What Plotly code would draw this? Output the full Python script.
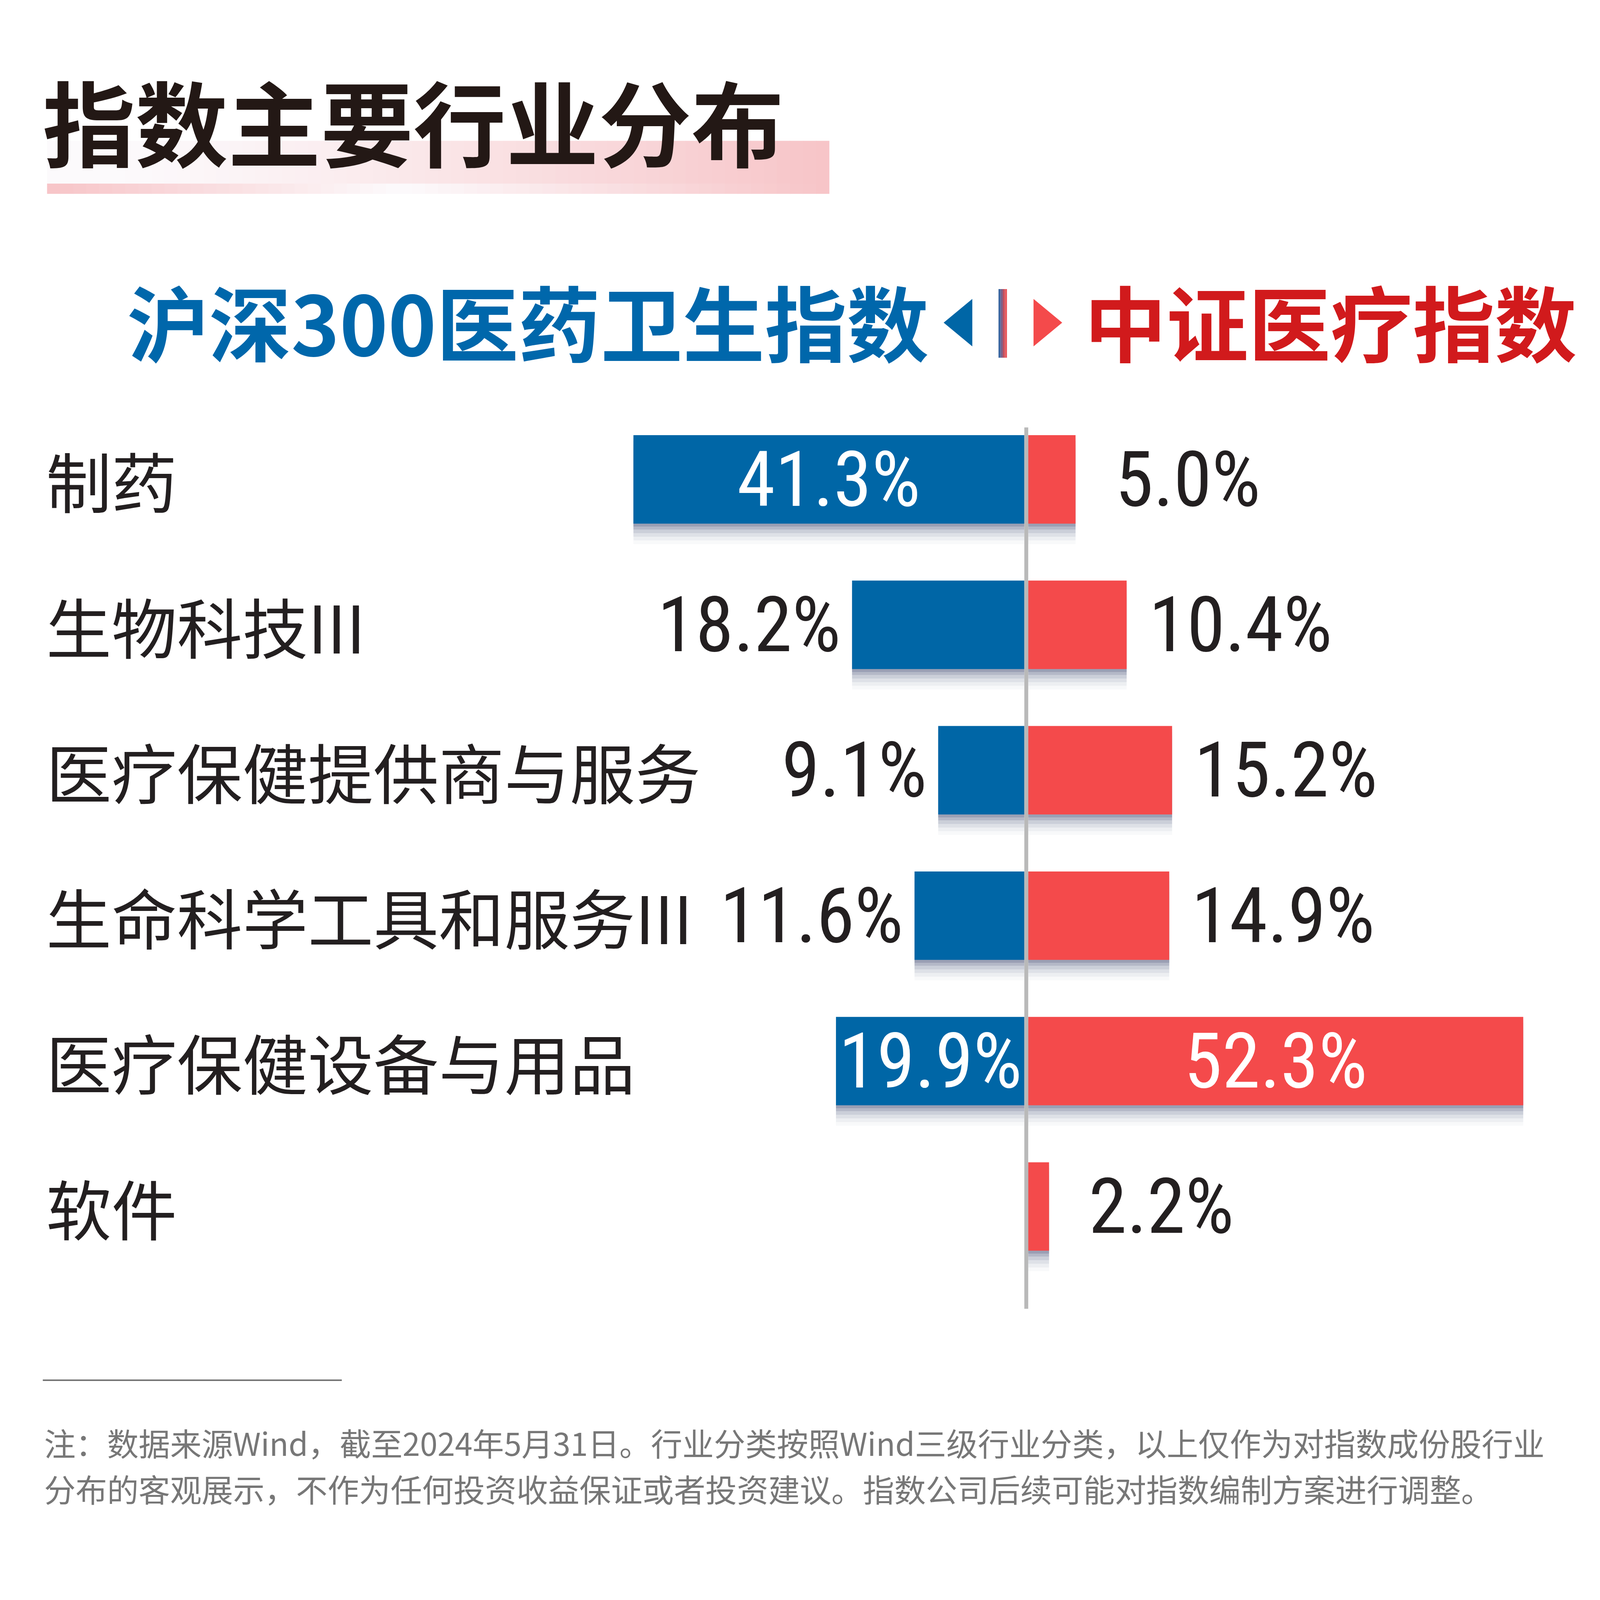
import plotly.graph_objects as go

# ---------------- data ----------------
categories = ["制药", "生物科技III", "医疗保健提供商与服务", "生命科学工具和服务III", "医疗保健设备与用品", "软件"]
hs300_health = [41.3, 18.2, 9.1, 11.6, 19.9, 0.0]      # 沪深300医药卫生指数 (%)
csi_medical = [5.0, 10.4, 15.2, 14.9, 52.3, 2.2]        # 中证医疗指数 (%)
title_text = "指数主要行业分布"
left_name = "沪深300医药卫生指数"
right_name = "中证医疗指数"
note_lines = [
    "注：数据来源Wind，截至2024年5月31日。行业分类按照Wind三级行业分类，以上仅作为对指数成份股行业",
    "分布的客观展示，不作为任何投资收益保证或者投资建议。指数公司后续可能对指数编制方案进行调整。",
]

# ---------------- geometry (reference pixels) ----------------
W, H = 4501, 4446
S = 1 / 1.104            # CSS px per screenshot px
ZERO_PX = 2900.5
PX_PER_PCT = 26.75
ROW0_PX = 1355
ROW_STEP = 411
BAR_PX = 250
GAP = 5.5 / PX_PER_PCT

BLUE = "#0066a6"
RED = "#f44a4b"
TXT = "#231f20"
FONT = "Noto Sans CJK SC"
NUM_FONT = "Roboto Condensed, Noto Sans CJK SC"


def px(x):
    return x / W


def py(y):
    return 1 - y / H


def fs(v):
    return v * S


x_range = [-ZERO_PX / PX_PER_PCT, (W - ZERO_PX) / PX_PER_PCT]
y_range = [(H - ROW0_PX) / ROW_STEP, (0 - ROW0_PX) / ROW_STEP]
bar_w = BAR_PX / ROW_STEP

ypos = list(range(len(categories)))

fig = go.Figure()

# soft shadow under bars
for dy, a in [(0.14, 0.03), (0.115, 0.05), (0.09, 0.075), (0.065, 0.10), (0.04, 0.14), (0.02, 0.18)]:
    sc = f"rgba(40,50,95,{a})"
    fig.add_trace(go.Bar(orientation="h", y=[p + dy for p in ypos], x=[-v for v in hs300_health],
                         base=-GAP, width=bar_w, marker=dict(color=sc, line=dict(width=0)),
                         hoverinfo="skip", showlegend=False))
    fig.add_trace(go.Bar(orientation="h", y=[p + dy for p in ypos], x=csi_medical,
                         base=GAP, width=bar_w, marker=dict(color=sc, line=dict(width=0)),
                         hoverinfo="skip", showlegend=False))

fig.add_trace(go.Bar(orientation="h", y=ypos, x=[-v for v in hs300_health], base=-GAP, width=bar_w,
                     marker=dict(color=BLUE, line=dict(width=0)), name=left_name, showlegend=False))
fig.add_trace(go.Bar(orientation="h", y=ypos, x=csi_medical, base=GAP, width=bar_w,
                     marker=dict(color=RED, line=dict(width=0)), name=right_name, showlegend=False))

annotations = []
LABEL_SIZE = fs(218)
INSIDE_MIN = 19
for i, (cat, bv, rv) in enumerate(zip(categories, hs300_health, csi_medical)):
    annotations.append(dict(x=px(128), xref="paper", y=i, yref="y", text=cat, showarrow=False,
                            xanchor="left", yanchor="middle",
                            font=dict(family=FONT, size=fs(185), color=TXT)))
    if bv > 0:
        if bv >= INSIDE_MIN:
            annotations.append(dict(x=-(GAP + bv / 2), y=i, xref="x", yref="y", text=f"{bv:.1f}%",
                                    showarrow=False, xanchor="center", yanchor="middle",
                                    font=dict(family=NUM_FONT, size=LABEL_SIZE, color="white")))
        else:
            annotations.append(dict(x=-(GAP + bv), y=i, xref="x", yref="y", text=f"{bv:.1f}%",
                                    showarrow=False, xanchor="right", yanchor="middle", xshift=-fs(30),
                                    font=dict(family=NUM_FONT, size=LABEL_SIZE, color=TXT)))
    if rv > 0:
        if rv >= INSIDE_MIN:
            annotations.append(dict(x=GAP + rv / 2, y=i, xref="x", yref="y", text=f"{rv:.1f}%",
                                    showarrow=False, xanchor="center", yanchor="middle",
                                    font=dict(family=NUM_FONT, size=LABEL_SIZE, color="white")))
        else:
            shift = 60 if rv >= 8 else 110
            annotations.append(dict(x=GAP + rv, y=i, xref="x", yref="y", text=f"{rv:.1f}%",
                                    showarrow=False, xanchor="left", yanchor="middle", xshift=fs(shift),
                                    font=dict(family=NUM_FONT, size=LABEL_SIZE, color=TXT)))

# title
annotations.append(dict(x=px(118), y=py(338), xref="paper", yref="paper", text=f"<b>{title_text}</b>",
                        showarrow=False, xanchor="left", yanchor="middle",
                        font=dict(family=FONT, size=fs(262), color="#231815", weight=900)))
# header names
annotations.append(dict(x=px(2628), y=py(905), xref="paper", yref="paper", text=f"<b>{left_name}</b>",
                        showarrow=False, xanchor="right", yanchor="middle",
                        font=dict(family=FONT, size=fs(232), color="#0067ab")))
annotations.append(dict(x=px(3062), y=py(905), xref="paper", yref="paper", text=f"<b>{right_name}</b>",
                        showarrow=False, xanchor="left", yanchor="middle",
                        font=dict(family=FONT, size=fs(232), color="#d11a1c")))
# footnote
for j, line in enumerate(note_lines):
    annotations.append(dict(x=px(122), y=py(4076 + 130 * j), xref="paper", yref="paper", text=line,
                            showarrow=False, xanchor="left", yanchor="middle",
                            font=dict(family=FONT, size=fs(89), color="#777777")))

shapes = []


def lerp(c1, c2, t):
    return "rgb(%d,%d,%d)" % tuple(round(a + (b - a) * t) for a, b in zip(c1, c2))


# pink gradient band under title
PINK = (247, 197, 200)
WHITE = (252, 250, 252)
x0b, x1b = 133, 2343
n = 60
for k in range(n):
    xa = x0b + (x1b - x0b) * k / n
    xb = x0b + (x1b - x0b) * (k + 1) / n + 1
    t = k / (n - 1)
    top_col = lerp(WHITE, PINK, max(0.0, (t - 0.08) / 0.92) ** 1.2)
    if t < 0.45:
        bot_col = lerp(PINK, WHITE, t / 0.45)
    else:
        bot_col = lerp(WHITE, PINK, (t - 0.45) / 0.55)
    shapes.append(dict(type="rect", xref="paper", yref="paper", x0=px(xa), x1=px(xb),
                       y0=py(519), y1=py(398), fillcolor=top_col, line=dict(width=0), layer="below"))
    shapes.append(dict(type="rect", xref="paper", yref="paper", x0=px(xa), x1=px(xb),
                       y0=py(548), y1=py(519), fillcolor=bot_col, line=dict(width=0), layer="below"))

# header arrows and divider
shapes.append(dict(type="path", xref="paper", yref="paper",
                   path=f"M {px(2748)} {py(845)} L {px(2667)} {py(912)} L {px(2748)} {py(979)} Z",
                   fillcolor="#0066a6", line=dict(width=0)))
shapes.append(dict(type="path", xref="paper", yref="paper",
                   path=f"M {px(2921)} {py(845)} L {px(3002)} {py(912)} L {px(2921)} {py(979)} Z",
                   fillcolor=RED, line=dict(width=0)))
for k, col in enumerate(["#3b66a0", "#7a5f88", "#c0505e", "#e8575c"]):
    shapes.append(dict(type="rect", xref="paper", yref="paper", x0=px(2822 + 6 * k), x1=px(2828 + 6 * k),
                       y0=py(1011), y1=py(817), fillcolor=col, line=dict(width=0)))

# centre axis line
shapes.append(dict(type="line", xref="x", yref="paper", x0=0, x1=0, y0=py(1208), y1=py(3699),
                   line=dict(color="#b9b9b9", width=fs(11)), layer="above"))
# footnote rule
shapes.append(dict(type="line", xref="paper", yref="paper", x0=px(121), x1=px(966), y0=py(3901), y1=py(3901),
                   line=dict(color="#6d6d6d", width=fs(4))))

fig.update_layout(
    width=round(W * S), height=round(H * S),
    margin=dict(l=0, r=0, t=0, b=0),
    paper_bgcolor="white", plot_bgcolor="white",
    barmode="overlay",
    xaxis=dict(range=x_range, visible=False, fixedrange=True, domain=[0, 1]),
    yaxis=dict(range=y_range, visible=False, fixedrange=True, domain=[0, 1]),
    annotations=annotations,
    shapes=shapes,
    showlegend=False,
    font=dict(family=FONT),
)

fig.write_html("out.html", config={"displayModeBar": False},
               post_script="document.body.style.margin='0';")
